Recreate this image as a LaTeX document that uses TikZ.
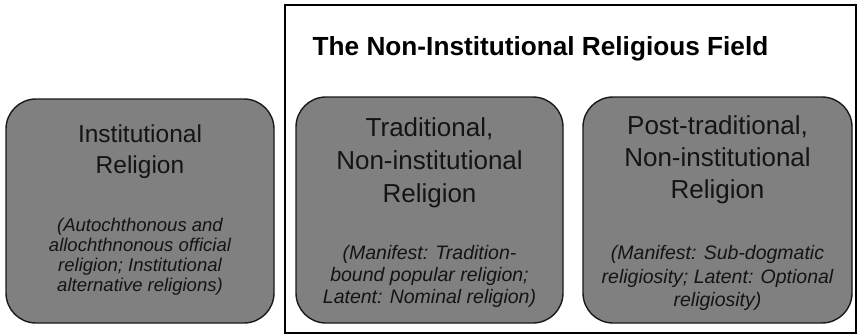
\documentclass[tikz,border=0pt]{standalone}
\usepackage{fontspec}
\setmainfont{Liberation Sans}
\definecolor{boxgray}{RGB}{128,128,128}
\definecolor{txt}{RGB}{20,20,20}
\begin{document}
\begin{tikzpicture}[x=1pt,y=-1pt,
  frame/.style={draw=black, line width=2pt, rectangle, inner sep=0pt},
  rbox/.style={draw=black!90, line width=1.4pt, fill=boxgray, rounded corners=30pt, rectangle, inner sep=0pt},
  ttl/.style={font=\fontsize{26.2}{30}\selectfont\bfseries, anchor=base, inner sep=0pt, text=black},
  mainL/.style={font=\fontsize{24.5}{28}\selectfont, anchor=base, inner sep=0pt, text=txt},
  mainT/.style={font=\fontsize{26}{30}\selectfont, anchor=base, inner sep=0pt, text=txt},
  subL/.style={font=\fontsize{18.5}{20}\selectfont\itshape, anchor=base, inner sep=0pt, text=txt},
  subT/.style={font=\fontsize{19.5}{22}\selectfont\itshape, anchor=base, inner sep=0pt, text=txt}]
\useasboundingbox (0,0) rectangle (858,335);
\fill[white] (0,0) rectangle (858,335);
% frame
\node[frame, minimum width=571pt, minimum height=328pt] (field) at (570.5,169) {};
\node[ttl] (title) at (540.5,55) {The Non-Institutional Religious Field};
% boxes
\node[rbox, minimum width=268pt, minimum height=224pt] (inst) at (140,211) {};
\node[rbox, minimum width=267pt, minimum height=226pt] (trad) at (429.5,210) {};
\node[rbox, minimum width=269pt, minimum height=226pt] (post) at (717.5,210) {};
% left box text
\node[mainL] (i1) at (140,142) {Institutional};
\node[mainL] (i2) at (140,173) {Religion};
\node[subL] (i3) at (140,231) {(Autochthonous and};
\node[subL] (i4) at (140,251) {allochthnonous official};
\node[subL] (i5) at (140,271) {religion; Institutional};
\node[subL] (i6) at (140,291) {alternative religions)};
% middle box text
\node[mainT] (t1) at (429.5,136.5) {Traditional,};
\node[mainT] (t2) at (429.5,169.5) {Non-institutional};
\node[mainT] (t3) at (429.5,202.5) {Religion};
\node[subT] (t4) at (429.5,259) {(Manifest: Tradition-};
\node[subT] (t5) at (429.5,281) {bound popular religion;};
\node[subT] (t6) at (429.5,303) {Latent: Nominal religion)};
% right box text
\node[mainT] (p1) at (717.5,134) {Post-traditional,};
\node[mainT] (p2) at (717.5,166) {Non-institutional};
\node[mainT] (p3) at (717.5,198) {Religion};
\node[subT] (p4) at (717.5,259) {(Manifest: Sub-dogmatic};
\node[subT] (p5) at (717.5,283) {religiosity; Latent: Optional};
\node[subT] (p6) at (717.5,306) {religiosity)};
\end{tikzpicture}
\end{document}
